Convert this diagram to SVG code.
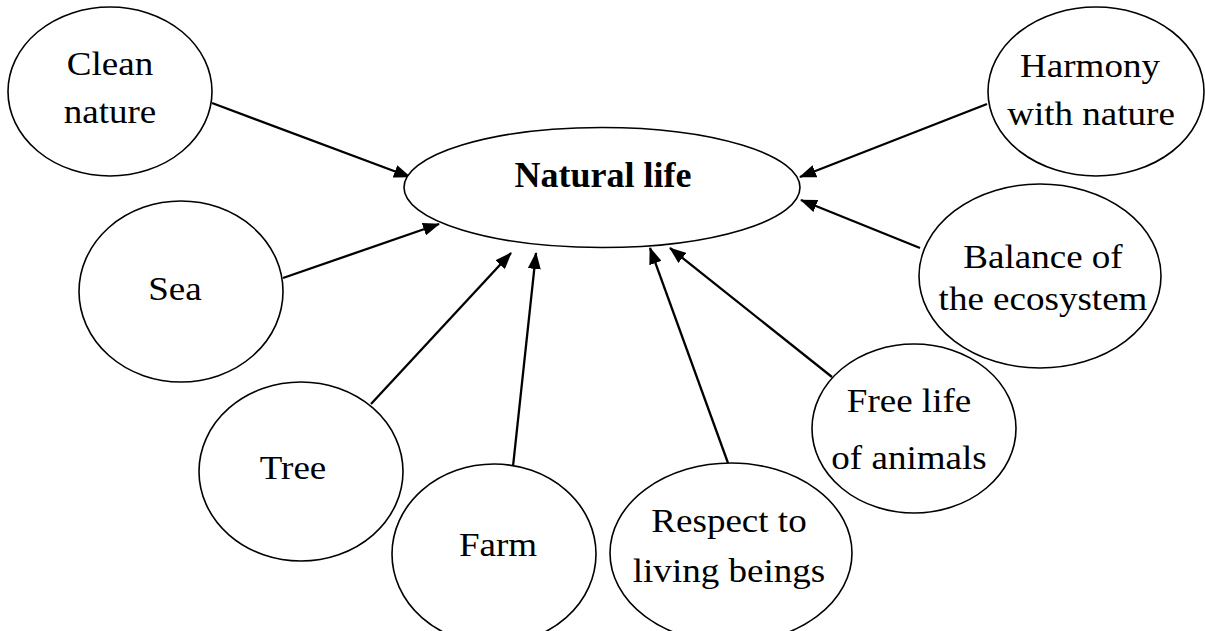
<svg xmlns="http://www.w3.org/2000/svg" width="1205" height="631" viewBox="0 0 1205 631">
<style>
.n{fill:#fff;stroke:#000;stroke-width:1.6}
.t{font-family:"Liberation Serif","Times New Roman",serif;font-size:34px;fill:#000;text-anchor:middle}
.b{font-family:"Liberation Serif","Times New Roman",serif;font-size:36px;font-weight:bold;fill:#000;text-anchor:middle}
.c{stroke:#000;stroke-width:2.3;fill:none;marker-end:url(#ah)}
</style>
<defs>
<marker id="ah" viewBox="0 0 17 13" refX="16" refY="6.5" markerWidth="17" markerHeight="13" markerUnits="userSpaceOnUse" orient="auto">
<path d="M0,0 L17,6.5 L0,13 z" fill="#000"/>
</marker>
</defs>
<rect width="1205" height="631" fill="#fff"/>
<g id="connectors">
<line class="c" x1="212" y1="103" x2="410" y2="177"/>
<line class="c" x1="283" y1="278" x2="439" y2="224"/>
<line class="c" x1="371" y1="404" x2="511" y2="253"/>
<line class="c" x1="511" y1="485" x2="536" y2="253"/>
<line class="c" x1="728" y1="463" x2="650" y2="248"/>
<line class="c" x1="832" y1="377" x2="670" y2="248"/>
<line class="c" x1="920" y1="248" x2="801" y2="200"/>
<line class="c" x1="987" y1="104" x2="800" y2="177"/>
</g>
<g id="natural-life">
<ellipse class="n" cx="602" cy="187.5" rx="198" ry="60"/>
<text class="b" x="603" y="187">Natural life</text>
</g>
<g id="clean-nature">
<ellipse class="n" cx="110" cy="91.5" rx="102" ry="84.5"/>
<text class="t" transform="translate(110,75) scale(1.09,1)">Clean</text>
<text class="t" transform="translate(110,123) scale(1.09,1)">nature</text>
</g>
<g id="harmony">
<ellipse class="n" cx="1096" cy="91.5" rx="108" ry="84.5"/>
<text class="t" transform="translate(1090,77) scale(1.09,1)">Harmony</text>
<text class="t" transform="translate(1091,125) scale(1.09,1)">with nature</text>
</g>
<g id="sea">
<ellipse class="n" cx="181" cy="291.5" rx="102" ry="90.5"/>
<text class="t" transform="translate(175,300) scale(1.09,1)">Sea</text>
</g>
<g id="balance">
<ellipse class="n" cx="1040" cy="276" rx="121" ry="92"/>
<text class="t" transform="translate(1043,268) scale(1.09,1)">Balance of</text>
<text class="t" transform="translate(1043,310) scale(1.09,1)">the ecosystem</text>
</g>
<g id="tree">
<ellipse class="n" cx="301" cy="471.5" rx="102" ry="89.5"/>
<text class="t" transform="translate(293,479) scale(1.09,1)">Tree</text>
</g>
<g id="farm">
<ellipse class="n" cx="494" cy="554" rx="102" ry="90"/>
<text class="t" transform="translate(498,556) scale(1.09,1)">Farm</text>
</g>
<g id="respect">
<ellipse class="n" cx="731" cy="553" rx="121" ry="90"/>
<text class="t" transform="translate(729,532) scale(1.09,1)">Respect to</text>
<text class="t" transform="translate(729,582) scale(1.09,1)">living beings</text>
</g>
<g id="free-life">
<ellipse class="n" cx="914" cy="428.5" rx="102" ry="84.5"/>
<text class="t" transform="translate(909,412) scale(1.09,1)">Free life</text>
<text class="t" transform="translate(909,469) scale(1.09,1)">of animals</text>
</g>
</svg>
